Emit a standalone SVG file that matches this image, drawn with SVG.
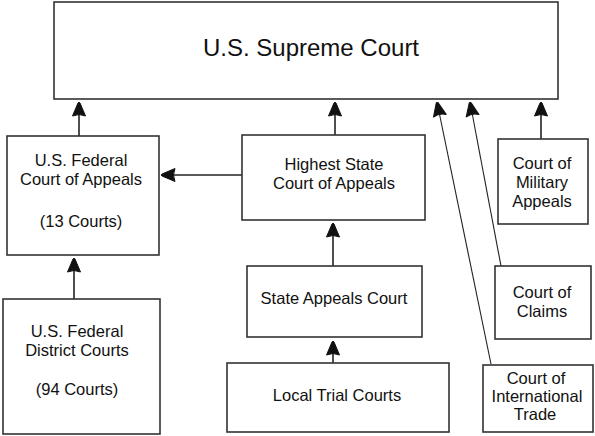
<svg xmlns="http://www.w3.org/2000/svg" width="595" height="436" viewBox="0 0 595 436">
<defs>
<style>
.box{fill:#fff;stroke:#333;stroke-width:1.6}
.t{font-family:"Liberation Sans",Arial,sans-serif;font-size:16.5px;fill:#111;text-anchor:middle}
.big{font-size:24px}
.c{stroke:#222;stroke-width:1.6;fill:none}
.d{stroke:#222;stroke-width:1.1;fill:none}
</style>
<marker id="ah" viewBox="-1 -8 16 16" refX="14" refY="0" markerWidth="16" markerHeight="16" markerUnits="userSpaceOnUse" orient="auto">
<path d="M0,-6.5 Q3,0 0,6.5 L13,1 Q14,0 13,-1 Z" fill="#111" stroke="#111" stroke-width="1" stroke-linejoin="round"/>
</marker>
</defs>
<rect width="595" height="436" fill="#fff"/>
<g id="connectors">
<line class="c" x1="79" y1="136" x2="79" y2="102" marker-end="url(#ah)"/>
<line class="c" x1="335" y1="135" x2="335" y2="102" marker-end="url(#ah)"/>
<line class="c" x1="541" y1="139" x2="541" y2="102" marker-end="url(#ah)"/>
<line class="d" x1="491" y1="364" x2="437" y2="102" marker-end="url(#ah)"/>
<line class="d" x1="501" y1="266" x2="470" y2="102" marker-end="url(#ah)"/>
<line class="c" x1="242" y1="175" x2="161" y2="175" marker-end="url(#ah)"/>
<line class="c" x1="74" y1="299" x2="74" y2="258" marker-end="url(#ah)"/>
<line class="c" x1="333" y1="266" x2="333" y2="223" marker-end="url(#ah)"/>
<line class="c" x1="333" y1="363" x2="333" y2="341" marker-end="url(#ah)"/>
</g>
<g id="supreme">
<rect class="box" x="54" y="2" width="504" height="97"/>
<text class="t big" x="311" y="56">U.S. Supreme Court</text>
</g>
<g id="fed-appeals">
<rect class="box" x="7" y="136" width="152" height="119"/>
<text class="t" x="81" y="166">U.S. Federal</text>
<text class="t" x="81" y="185">Court of Appeals</text>
<text class="t" x="81" y="227">(13 Courts)</text>
</g>
<g id="fed-district">
<rect class="box" x="3" y="299" width="157" height="135"/>
<text class="t" x="77" y="337">U.S. Federal</text>
<text class="t" x="77" y="356">District Courts</text>
<text class="t" x="77" y="395">(94 Courts)</text>
</g>
<g id="highest-state">
<rect class="box" x="242" y="135" width="183" height="85"/>
<text class="t" x="334" y="170">Highest State</text>
<text class="t" x="334" y="189">Court of Appeals</text>
</g>
<g id="state-appeals">
<rect class="box" x="247" y="266" width="175" height="71"/>
<text class="t" x="334" y="304">State Appeals Court</text>
</g>
<g id="local-trial">
<rect class="box" x="227" y="363" width="222" height="69"/>
<text class="t" x="337" y="401">Local Trial Courts</text>
</g>
<g id="military">
<rect class="box" x="498" y="139" width="90" height="85"/>
<text class="t" x="542" y="169">Court of</text>
<text class="t" x="542" y="188">Military</text>
<text class="t" x="542" y="207">Appeals</text>
</g>
<g id="claims">
<rect class="box" x="495" y="266" width="96" height="73"/>
<text class="t" x="542" y="298">Court of</text>
<text class="t" x="542" y="317">Claims</text>
</g>
<g id="intl-trade">
<rect class="box" x="483" y="365" width="110" height="67"/>
<text class="t" x="536" y="384">Court of</text>
<text class="t" x="537" y="402">International</text>
<text class="t" x="535" y="420">Trade</text>
</g>
</svg>
